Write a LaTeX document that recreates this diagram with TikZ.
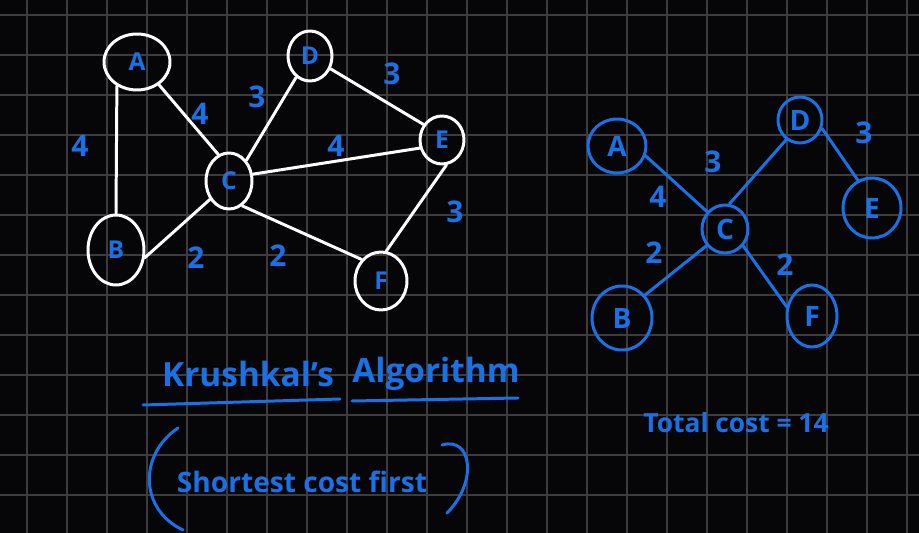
\documentclass[tikz,border=0pt]{standalone}
\usepackage{fontspec}
\setmainfont{Open Sans}
\usetikzlibrary{shapes.geometric}

\definecolor{ink}{RGB}{26,113,230}
\definecolor{board}{RGB}{6,6,8}
\definecolor{gridgray}{RGB}{60,60,62}

\begin{document}
\begin{tikzpicture}[%
        x = 0.02cm,
        y = -0.02cm,
        line cap = round,
        line join = round,
        chalk/.style = {
            draw = white,
            line width = 1.7pt
        },
        pen/.style = {
            draw = ink,
            line width = 1.7pt
        },
        oval/.style 2 args = {
            minimum width = #1 * 0.02cm,
            minimum height = #2 * 0.02cm
        },
        wvertex/.style = {
            ellipse,
            chalk,
            inner sep = 0pt,
            text = ink,
            font = \fontsize{14}{14}\selectfont\bfseries
        },
        bvertex/.style = {
            ellipse,
            pen,
            inner sep = 0pt,
            text = ink,
            font = \fontsize{16}{16}\selectfont\bfseries
        },
        weight/.style = {
            text = ink,
            font = \fontsize{17}{17}\selectfont\bfseries
        },
        note/.style = {
            text = ink,
            inner sep = 0pt
        }
    ]

        % Board and its grid.
        \fill[board] (0, 0) rectangle (919, 533);
        \useasboundingbox (0, 0) rectangle (919, 533);
        \foreach \gx in {27, 67, ..., 907}
            \draw[gridgray, line width = 0.7pt] (\gx, 0) -- (\gx, 533);
        \foreach \gy in {15, 55, ..., 495}
            \draw[gridgray, line width = 0.7pt] (0, \gy) -- (919, \gy);

        % Vertices of the full graph.
        \node[wvertex, oval = {66}{56}] (lA) at (137, 62) {A};
        \node[wvertex, oval = {44}{50}] (lD) at (310, 56) {D};
        \node[wvertex, oval = {46}{56}] (lC) at (229, 181) {C};
        \node[wvertex, oval = {56}{70}] (lB) at (116, 250) {B};
        \node[wvertex, oval = {44}{48}] (lE) at (442, 140) {E};
        \node[wvertex, oval = {52}{58}] (lF) at (381, 281) {F};

        % Edges of the full graph.
        \draw[chalk] (lA.230) -- (lB.90);
        \draw[chalk] (lA.314) -- (lC.112);
        \draw[chalk] (lD.237) -- (lC.50);
        \draw[chalk] (lD.328) -- (lE.140);
        \draw[chalk] (lC.16) -- (lE.200);
        \draw[chalk] (lC.224) -- (lB.-15);
        \draw[chalk] (lC.298) -- (lF.132);
        \draw[chalk] (lE.280) -- (lF.80);

        % Weights of the full graph.
        \node[weight] (wAB) at (80, 146) {4};
        \node[weight] (wAC) at (200, 114) {4};
        \node[weight] (wDC) at (257, 97) {3};
        \node[weight] (wDE) at (392, 74) {3};
        \node[weight] (wCE) at (336, 146) {4};
        \node[weight] (wEF) at (455, 212) {3};
        \node[weight] (wCB) at (196, 258) {2};
        \node[weight] (wCF) at (278, 256) {2};

        % Vertices of the spanning tree.
        \node[bvertex, oval = {58}{54}] (rA) at (617, 146) {A};
        \node[bvertex, oval = {44}{46}] (rD) at (800, 120) {D};
        \node[bvertex, oval = {46}{48}] (rC) at (725, 229) {C};
        \node[bvertex, oval = {58}{60}] (rE) at (872, 208) {E};
        \node[bvertex, oval = {60}{64}] (rB) at (622, 318) {B};
        \node[bvertex, oval = {50}{62}] (rF) at (812, 316) {F};

        % Edges of the spanning tree.
        \draw[pen] (rA.341) -- (rC.136);
        \draw[pen] (rD.235) -- (rC.80);
        \draw[pen] (rD.339) -- (rE.117);
        \draw[pen] (rC.222) -- (rB.45);
        \draw[pen] (rC.317) -- (rF.160);

        % Weights of the spanning tree.
        \node[weight] (vAC) at (658, 197) {4};
        \node[weight] (vDC) at (713, 162) {3};
        \node[weight] (vDE) at (864, 133) {3};
        \node[weight] (vCB) at (654, 253) {2};
        \node[weight] (vCF) at (785, 265) {2};

        % Title with its underlines.
        \node[note, font = \fontsize{19}{19}\selectfont\bfseries] (kname) at (248, 374) {Krushkal's};
        \node[note, font = \fontsize{19}{19}\selectfont\bfseries] (algo) at (436, 374) {Algorithm};
        \draw[pen] (143, 405) -- (340, 399);
        \draw[pen] (352, 401) -- (518, 398);

        % Remark in brackets.
        \node[note, font = \fontsize{16}{16}\selectfont\bfseries] (rule) at (302, 482) {Shortest cost first};
        \draw[pen] (178, 428) .. controls (138, 455) and (140, 510) .. (183, 530);
        \draw[pen] (442, 445) .. controls (472, 436) and (478, 482) .. (447, 513);

        % Sum of the tree.
        \node[note, font = \fontsize{15}{15}\selectfont\bfseries] (total) at (736, 423) {Total cost = 14};
    \end{tikzpicture}
\end{document}
